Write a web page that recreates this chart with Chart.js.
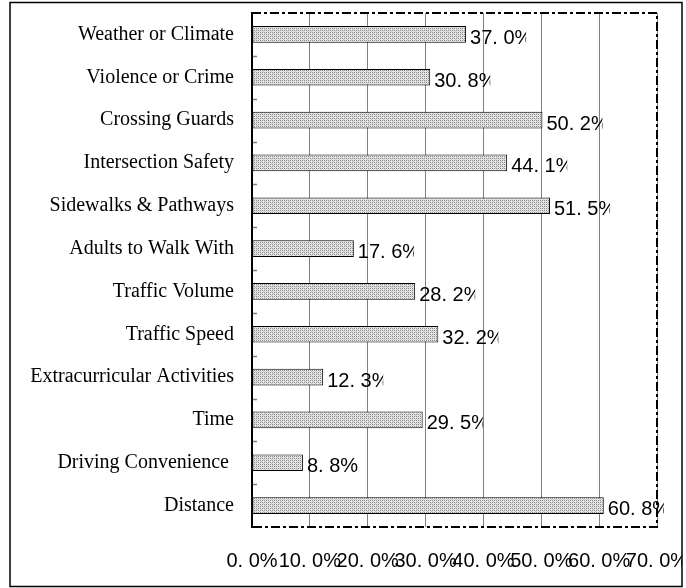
<!DOCTYPE html>
<html>
<head>
<meta charset="utf-8">
<script src="https://cdn.jsdelivr.net/npm/chart.js@4"></script>
<style>
  html, body { margin: 0; padding: 0; background: #fff; }
  canvas { display: block; }
</style>
</head>
<body>
<canvas id="chartBarreras" width="686" height="588"></canvas>
<script>
// categorias (de arriba hacia abajo)
const categorias = [
    "Weather or Climate",
    "Violence or Crime",
    "Crossing Guards",
    "Intersection Safety",
    "Sidewalks & Pathways",
    "Adults to Walk With",
    "Traffic Volume",
    "Traffic Speed",
    "Extracurricular Activities",
    "Time",
    "Driving Convenience ",
    "Distance"
];
const porcentajes = [37.0, 30.8, 50.2, 44.1, 51.5, 17.6, 28.2, 32.2, 12.3, 29.5, 8.8, 60.8];
const ticksX = [0, 10, 20, 30, 40, 50, 60, 70];

// formato tipo Excel: "37. 0%"
const fmt = v => v.toFixed(1).replace('.', '. ') + '%';

// relleno punteado de las barras
function crearPatron() {
    const c = document.createElement('canvas');
    c.width = 4; c.height = 4;
    const ctx = c.getContext('2d');
    ctx.fillStyle = '#e6e6e6';
    ctx.fillRect(0, 0, 4, 4);
    ctx.fillStyle = '#8a8a8a';
    [[0, 0], [2, 0], [0, 2], [2, 2]].forEach(([px, py]) => ctx.fillRect(px, py, 1, 1));
    ctx.fillStyle = '#c4c4c4';
    [[1, 1], [3, 3]].forEach(([px, py]) => ctx.fillRect(px, py, 1, 1));
    return ctx.createPattern(c, 'repeat');
}

const extras = {
    id: 'extras',
    afterDatasetsDraw(chart) {
        const ctx = chart.ctx;
        const meta = chart.getDatasetMeta(0);
        ctx.save();
        ctx.font = '20px "Liberation Sans", Arial, sans-serif';
        ctx.fillStyle = '#000';
        ctx.textBaseline = 'middle';
        ctx.textAlign = 'left';
        meta.data.forEach((bar, i) => {
            const x0 = bar.x + 4;
            ctx.save();
            ctx.beginPath();
            ctx.rect(x0, bar.y - 20, 56, 40);
            ctx.clip();
            ctx.fillText(fmt(porcentajes[i]), x0, bar.y + 4);
            ctx.restore();
        });
        ctx.restore();
    },
    afterDraw(chart) {
        const ctx = chart.ctx;
        const a = chart.chartArea;
        const y = chart.scales.y;
        ctx.save();

        // marcas del eje de categorias
        ctx.strokeStyle = '#808080';
        ctx.lineWidth = 1.5;
        const paso = y.getPixelForValue(1) - y.getPixelForValue(0);
        for (let i = 0; i < categorias.length - 1; i++) {
            const py = Math.round(y.getPixelForValue(i) + paso / 2) + 0.5;
            ctx.beginPath();
            ctx.moveTo(a.left, py);
            ctx.lineTo(a.left + 5, py);
            ctx.stroke();
        }

        // borde del area de trazado (punto y raya)
        ctx.strokeStyle = '#000';
        ctx.lineWidth = 2;
        ctx.setLineDash([9, 3, 3, 3]);
        ctx.beginPath();
        ctx.moveTo(a.left, a.top);
        ctx.lineTo(a.right, a.top);
        ctx.lineTo(a.right, a.bottom);
        ctx.lineTo(a.left, a.bottom);
        ctx.stroke();
        ctx.setLineDash([]);
        ctx.beginPath();
        ctx.moveTo(a.left, a.top - 1);
        ctx.lineTo(a.left, a.bottom + 1);
        ctx.stroke();

        // marco exterior
        ctx.fillStyle = '#fff';
        ctx.fillRect(682, 0, 4, 588);
        ctx.lineWidth = 1.5;
        ctx.strokeRect(10, 2.5, 672, 584);
        ctx.restore();
    }
};

new Chart(document.getElementById('chartBarreras'), {
    type: 'bar',
    data: {
        labels: categorias,
        datasets: [{
            data: porcentajes,
            backgroundColor: crearPatron(),
            borderColor: '#000',
            borderWidth: 1,
            borderSkipped: false,
            categoryPercentage: 1,
            barPercentage: 0.39
        }]
    },
    options: {
        indexAxis: 'y',
        responsive: false,
        animation: false,
        devicePixelRatio: 1,
        layout: { padding: { top: 13, right: 29, left: 0, bottom: 0 } },
        plugins: { legend: { display: false }, tooltip: { enabled: false } },
        scales: {
            x: {
                min: 0,
                max: 70,
                afterBuildTicks: s => { s.ticks = ticksX.map(v => ({ value: v })); },
                afterFit: s => { s.height = 61; s.paddingLeft = 0; s.paddingRight = 0; },
                grid: { color: '#808080', lineWidth: 1, drawTicks: false },
                border: { display: false },
                ticks: {
                    padding: 22,
                    maxRotation: 0,
                    autoSkip: false,
                    color: '#000',
                    font: { family: '"Liberation Sans", Arial, sans-serif', size: 20 },
                    callback: v => fmt(v)
                }
            },
            y: {
                afterFit: s => { s.width = 252; s.paddingTop = 0; s.paddingBottom = 0; },
                grid: { display: false, drawTicks: false },
                border: { display: false },
                ticks: {
                    padding: 18,
                    autoSkip: false,
                    color: '#000',
                    font: { family: '"Liberation Serif", "Times New Roman", serif', size: 20 }
                }
            }
        }
    },
    plugins: [extras]
});
</script>
</body>
</html>
